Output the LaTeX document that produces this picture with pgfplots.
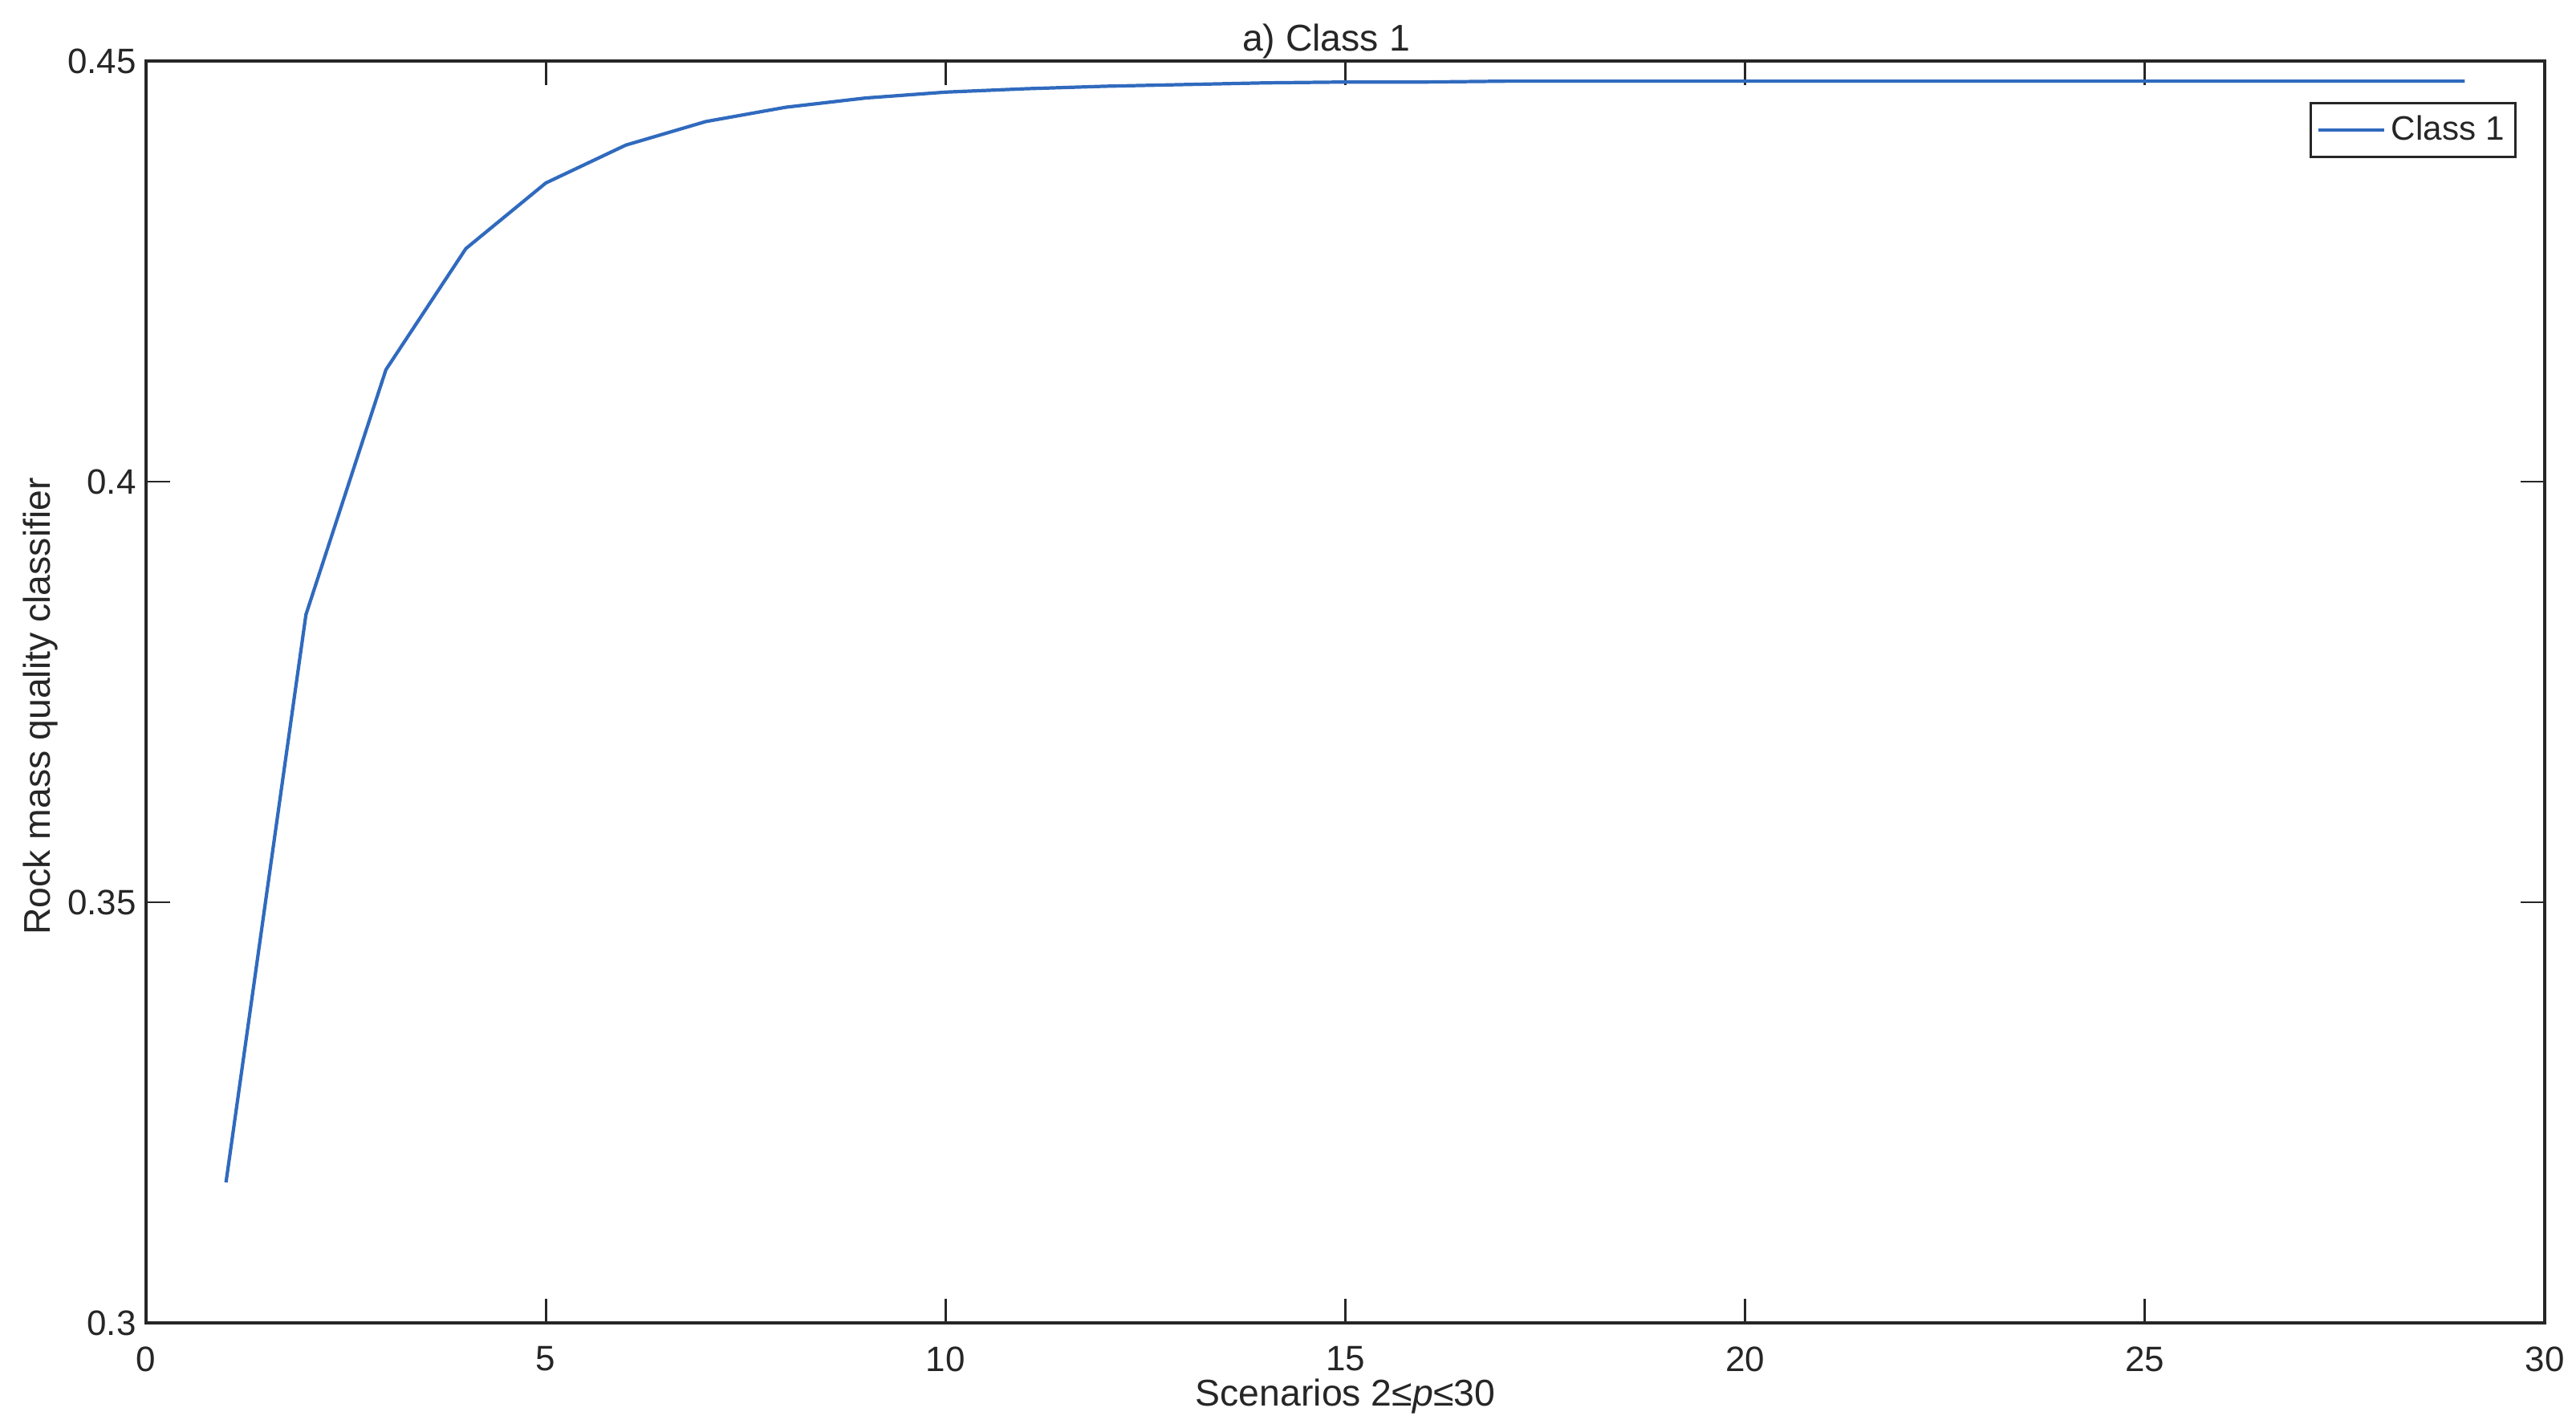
\documentclass[border=0pt]{standalone}
\usepackage{fontspec}
\setmainfont{Liberation Sans}
\usepackage{pgfplots}
\pgfplotsset{compat=1.18}

\definecolor{lineblue}{RGB}{48,106,190}
\definecolor{axgray}{RGB}{38,38,38}

\begin{document}
\begin{tikzpicture}
\begin{axis}[
  scale only axis,
  width=29.89cm, height=15.72cm,
  xmin=0, xmax=30, ymin=0.3, ymax=0.45,
  xtick={0,5,...,30},
  ytick={0.3,0.35,0.4,0.45},
  /pgf/number format/assume math mode=true,
  yticklabel style={/pgf/number format/fixed, /pgf/number format/precision=2},
  font=\fontsize{12.5}{14.5}\selectfont,
  tick label style={font=\fontsize{12.5}{14.5}\selectfont, text=axgray},
  label style={font=\fontsize{13.2}{15.5}\selectfont, text=axgray},
  axis line style={axgray, line width=1pt},
  major tick style={axgray, line width=0.8pt},
  major tick length=0.3cm,
  tick align=inside,
  xtick pos=both, ytick pos=both,
  title={a) Class 1},
  title style={at={(axis description cs:0.5,1)}, anchor=base, yshift=-0.09cm, xshift=-0.24cm,
               font=\fontsize{13.2}{15.5}\selectfont, text=axgray},
  xlabel={Scenarios 2≤\textit{p}≤30},
  xlabel style={at={(axis description cs:0.5,0)}, anchor=center, yshift=-0.92cm},
  ylabel={Rock mass quality classifier},
  ylabel style={at={(axis description cs:-0.0440,0.4886)}, anchor=center},
  xticklabel style={yshift=-0.17cm},
  legend style={at={(0.9883,0.9676)}, anchor=north east,
                draw=axgray, line width=0.8pt,
                inner xsep=2pt, inner ysep=2.5pt,
                font=\fontsize{12}{14}\selectfont, text=axgray},
  legend cell align=left,
  legend image code/.code={\draw[#1] (0cm,0cm) -- (0.82cm,0cm);},
]
\addplot[lineblue, line width=1.2pt] coordinates {
  (1,0.3167) (2,0.3842) (3,0.4133) (4,0.4277) (5,0.4355)
  (6,0.4400) (7,0.4428) (8,0.4445) (9,0.4456) (10,0.4463)
  (11,0.4467) (12,0.4470) (13,0.4472) (14,0.4474) (15,0.4475)
  (16,0.4475) (17,0.4476) (18,0.4476) (19,0.4476) (20,0.4476)
  (21,0.4476) (22,0.4476) (23,0.4476) (24,0.4476) (25,0.4476)
  (26,0.4476) (27,0.4476) (28,0.4476) (29,0.4476)
};
\addlegendentry{Class 1}
\end{axis}
\pgfresetboundingbox
\path[use as bounding box] (-1.82,-1.16) rectangle (30.28,16.48);
\end{tikzpicture}
\end{document}
